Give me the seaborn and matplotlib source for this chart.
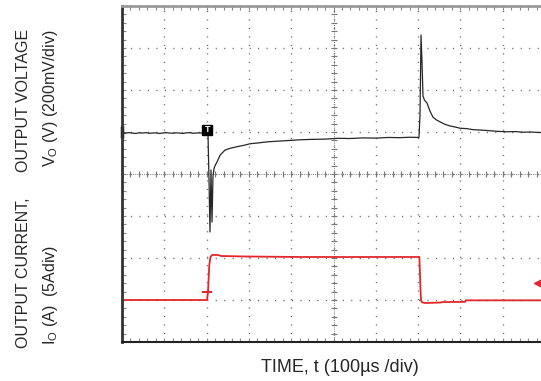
import matplotlib
matplotlib.use("Agg")
import matplotlib.pyplot as plt
from matplotlib.ticker import MultipleLocator
import numpy as np
import pandas as pd
import seaborn as sns

# scope settings
US_PER_DIV = 100
MV_PER_DIV = 200
A_PER_DIV = 5
VO_REF_DIV = 1     # channel 1 reference line
IO_REF_DIV = -3    # channel 2 reference line

# channel 1: output voltage deviation (mV) vs time (us)
vo_time_us = [0, 8, 16, 24, 32, 40, 48, 56, 64, 72, 80, 88, 96, 104, 112, 120,
              128, 136, 144, 152, 160, 168, 176, 184, 192, 200,
              203.3, 205.7, 208, 210.4, 212.8, 215.1, 217.5, 220, 224.6, 232,
              243.5, 257, 271.9, 287, 302.6, 322, 342.8, 365, 390, 420.8, 450,
              480, 510, 539, 570, 600, 630, 657, 680, 702,
              704.5, 706.9, 709.2, 711.6, 715, 721, 728, 735, 743, 752, 763,
              775, 787, 799, 815, 830, 850, 870, 890, 910, 930, 948, 965, 983, 1000]
vo_mv = [-4, -6, -3, -5, -7, -4, -5, -3, -6, -5, -4, -7, -5, -3, -5, -6,
         -4, -5, -7, -4, -3, -6, -5, -4, -6, -5,
         -10, -229, -476, -181, -429, -210, -175, -160, -143, -110,
         -86, -77, -70, -64, -56, -52, -47, -44, -41, -37, -35,
         -34, -30, -31, -28, -29, -26, -27, -25, -26,
         81, 462, 333, 171, 152, 138, 100, 71, 58, 48, 37,
         29, 24, 18, 16, 11, 9, 6, 3, 1, 2, -1, 0, -2, -3]

# channel 2: output current (A) vs time (us)
io_time_us = [0, 201, 203.3, 206.4, 209.2, 212.8, 227, 234, 290.8, 420, 600,
              702, 703, 704.5, 705.7, 706.9, 709.2, 716, 754, 756.5, 811, 813, 1000]
io_amps = [0, 0, 0.95, 4.17, 5.12, 5.36, 5.36, 5.24, 5.18, 5.12, 5.12,
           5.12, 5.12, 2.98, 1.19, 0, -0.27, -0.36, -0.3, -0.25, -0.22, -0.04, -0.04]

trig_time_us = 202
trig_level_a = 2.0
trig_mark_mv = 10

vo = pd.DataFrame({"t": np.array(vo_time_us) / US_PER_DIV,
                   "y": VO_REF_DIV + np.array(vo_mv) / MV_PER_DIV})
io = pd.DataFrame({"t": np.array(io_time_us) / US_PER_DIV,
                   "y": IO_REF_DIV + np.array(io_amps) / A_PER_DIV})

sns.set_style("white")
plt.rcParams['font.family'] = ['Liberation Sans', 'DejaVu Sans']
plt.rcParams['mathtext.fontset'] = 'custom'
plt.rcParams['mathtext.rm'] = 'Liberation Sans'

W, H = 541, 381
fig = plt.figure(figsize=(W / 100, H / 100), dpi=100)
ax = fig.add_axes([122 / W, 1 - 342 / H, 423 / W, 336 / H])

ax.set_xlim(0, 10)
ax.set_ylim(-4, 4)
ax.xaxis.set_major_locator(MultipleLocator(1))
ax.yaxis.set_major_locator(MultipleLocator(1))
ax.xaxis.set_minor_locator(MultipleLocator(0.2))
ax.yaxis.set_minor_locator(MultipleLocator(0.2))
ax.tick_params(which='both', direction='in', length=3, width=0.8, color='#888',
               top=True, bottom=True, left=True, right=True,
               labelbottom=False, labelleft=False)
ax.grid(which='major', color='#666', linestyle=(0, (0.8, 5.3)), linewidth=1)

# centre graticule with fine ticks
ax.axhline(0, color='#777', ls=(0, (1, 1.2)), lw=0.7)
ax.axvline(5, color='#777', ls=(0, (1, 1.2)), lw=0.7)
ax.plot(np.arange(0, 10.01, 0.2), np.zeros(51), ls='none', marker='|',
        ms=5, mew=0.8, color='#777')
ax.plot(np.full(41, 5.0), np.arange(-4, 4.01, 0.2), ls='none', marker='_',
        ms=5, mew=0.8, color='#777')

for side, c, w in [('left', '#333', 2), ('top', '#999', 2),
                   ('bottom', '#222', 1.5), ('right', '#333', 1.5)]:
    ax.spines[side].set_color(c)
    ax.spines[side].set_linewidth(w)

sns.lineplot(data=io, x="t", y="y", color='#e3262b', lw=1.3,
             estimator=None, sort=False, ax=ax)
sns.lineplot(data=vo, x="t", y="y", color='#262626', lw=0.9,
             estimator=None, sort=False, ax=ax)
ax.set_xlabel("")
ax.set_ylabel("")

# trigger and channel markers
tx = trig_time_us / US_PER_DIV
ax.plot(tx, VO_REF_DIV + trig_mark_mv / MV_PER_DIV, marker='s', ms=7.5,
        color='black', zorder=5)
ax.text(tx, VO_REF_DIV + trig_mark_mv / MV_PER_DIV, "T", color='white',
        fontsize=6.5, fontweight='bold', ha='center', va='center', zorder=6)
ax.plot(tx, IO_REF_DIV + 1.0 / A_PER_DIV, marker='_', ms=7, mew=1.5,
        color='#e3262b')
ax.plot(9.85, IO_REF_DIV + trig_level_a / A_PER_DIV, marker='<', ms=6.5,
        color='#e3262b', clip_on=False)
ax.plot(0, VO_REF_DIV, marker='|', ms=8, mew=2.5, color='black', clip_on=False)

fs = 11.5
fig.text(24 / W, 1 - 100 / H, "OUTPUT VOLTAGE", rotation=90, ha='center',
         va='center', fontsize=fs)
fig.text(51 / W, 1 - 98 / H, r"V$_\mathregular{O}$ (V) (200mV/div)",
         rotation=90, ha='center', va='center', fontsize=fs)
fig.text(24 / W, 1 - 273 / H, "OUTPUT CURRENT,", rotation=90, ha='center',
         va='center', fontsize=fs)
fig.text(51 / W, 1 - 295 / H, r"I$_\mathregular{O}$ (A)  (5Adiv)",
         rotation=90, ha='center', va='center', fontsize=fs)
fig.text(340 / W, 1 - 368 / H, "TIME, t (100µs /div)", ha='center',
         va='center', fontsize=13)

fig.savefig("out.png", dpi=100)
